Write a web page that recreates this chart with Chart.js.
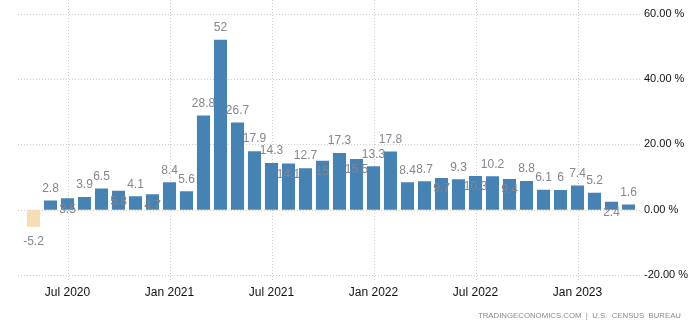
<!DOCTYPE html>
<html>
<head>
<meta charset="utf-8">
<script src="https://cdn.jsdelivr.net/npm/chart.js@4/dist/chart.umd.min.js"></script>
<style>
  html, body { margin: 0; padding: 0; background: #fff; }
  #wrap { width: 698px; height: 328px; }
</style>
</head>
<body>
<div id="wrap"><canvas id="salesChart" width="698" height="328"></canvas></div>
<script>
// Monthly values, May 2020 - Apr 2023
const months = [
  'May 2020','Jun 2020','Jul 2020','Aug 2020','Sep 2020','Oct 2020','Nov 2020','Dec 2020',
  'Jan 2021','Feb 2021','Mar 2021','Apr 2021','May 2021','Jun 2021','Jul 2021','Aug 2021',
  'Sep 2021','Oct 2021','Nov 2021','Dec 2021','Jan 2022','Feb 2022','Mar 2022','Apr 2022',
  'May 2022','Jun 2022','Jul 2022','Aug 2022','Sep 2022','Oct 2022','Nov 2022','Dec 2022',
  'Jan 2023','Feb 2023','Mar 2023','Apr 2023'
];
const values = [
  -5.2, 2.8, 3.5, 3.9, 6.5, 5.8, 4.1, 4.7,
  8.4, 5.6, 28.8, 52, 26.7, 17.9, 14.3, 14.1,
  12.7, 15, 17.3, 15.5, 13.3, 17.8, 8.4, 8.7,
  9.7, 9.3, 10.3, 10.2, 9.4, 8.8, 6.1, 6,
  7.4, 5.2, 2.4, 1.6
];
const yTicks = [-20, 0, 20, 40, 60];

// bars whose value label sits inside the bar top (to avoid crowding)
const labelInside = [2, 5, 7, 15, 17, 19, 24, 26, 28, 34];

const BLUE = '#4682b4';
const NEG = '#f5deb3';
const GRID = '#cccccc';

function isMajor(label) {
  return label.startsWith('Jan') || label.startsWith('Jul');
}

// value labels above / inside each bar
const valueLabels = {
  id: 'valueLabels',
  afterDatasetsDraw(chart) {
    const ctx = chart.ctx;
    const meta = chart.getDatasetMeta(0);
    ctx.save();
    ctx.font = '12px "Liberation Sans", Arial, sans-serif';
    ctx.fillStyle = '#858590';
    ctx.textAlign = 'center';
    ctx.textBaseline = 'middle';
    meta.data.forEach((bar, i) => {
      const v = values[i];
      let y;
      if (v < 0) y = bar.y + 15;
      else if (labelInside.includes(i)) y = bar.y + 11;
      else y = bar.y - 12;
      ctx.fillText(String(v), bar.x, y);
    });
    ctx.restore();
  }
};

// dotted grid (slightly wider than the plot area), plus source note
const extras = {
  id: 'extras',
  beforeDatasetsDraw(chart) {
    const ctx = chart.ctx;
    const x = chart.scales.x;
    const y = chart.scales.y;
    const area = chart.chartArea;
    ctx.save();
    ctx.strokeStyle = GRID;
    ctx.lineWidth = 1;
    ctx.setLineDash([1, 2]);
    yTicks.forEach(t => {
      const py = Math.round(y.getPixelForValue(t)) + 0.5;
      ctx.beginPath();
      ctx.moveTo(area.left - 7, py);
      ctx.lineTo(area.right + 3, py);
      ctx.stroke();
    });
    months.forEach((m, i) => {
      if (!isMajor(m)) return;
      const px = Math.round(x.getPixelForValue(i)) + 0.5;
      ctx.beginPath();
      ctx.moveTo(px, 0);
      ctx.lineTo(px, area.bottom + 6);
      ctx.stroke();
    });
    ctx.restore();
  },
  afterDraw(chart) {
    const ctx = chart.ctx;
    ctx.save();
    ctx.font = '7.8px "Liberation Sans", Arial, sans-serif';
    ctx.fillStyle = '#8a8a8a';
    ctx.textAlign = 'right';
    ctx.textBaseline = 'middle';
    ctx.fillText('TRADINGECONOMICS.COM  |  U.S.  CENSUS  BUREAU', 681, 316);
    ctx.restore();
  }
};

new Chart(document.getElementById('salesChart'), {
  type: 'bar',
  data: {
    labels: months,
    datasets: [{
      data: values,
      backgroundColor: values.map(v => v < 0 ? NEG : BLUE),
      borderWidth: 0,
      barPercentage: 0.77,
      categoryPercentage: 1
    }]
  },
  options: {
    responsive: false,
    animation: false,
    layout: { padding: { left: 25, top: 12, right: 0, bottom: 0 } },
    plugins: { legend: { display: false }, tooltip: { enabled: false } },
    scales: {
      x: {
        offset: true,
        grid: { display: false, drawTicks: false },
        border: { display: false },
        ticks: {
          autoSkip: false,
          maxRotation: 0,
          padding: 10,
          color: '#111',
          font: { family: '"Liberation Sans", Arial, sans-serif', size: 12 },
          callback: (val, i) => isMajor(months[i]) ? months[i] : ''
        },
        afterFit: s => { s.height = 53; }
      },
      y: {
        position: 'right',
        min: -20,
        max: 60,
        afterBuildTicks: s => { s.ticks = yTicks.map(v => ({ value: v })); },
        grid: { display: false, drawTicks: false },
        border: { display: false },
        ticks: {
          padding: 7,
          color: '#111',
          font: { family: '"Liberation Sans", Arial, sans-serif', size: 11 },
          callback: v => v.toFixed(2) + ' %'
        },
        afterFit: s => { s.width = 61; }
      }
    }
  },
  plugins: [extras, valueLabels]
});
</script>
</body>
</html>
